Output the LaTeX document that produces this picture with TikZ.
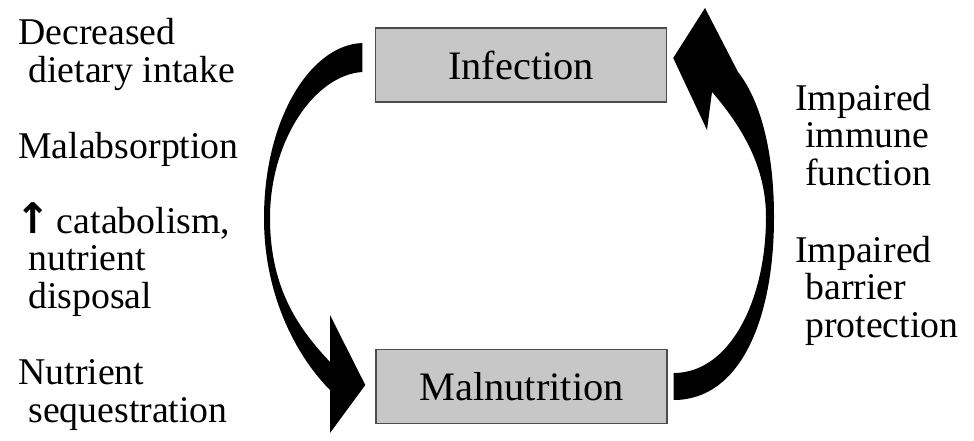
\documentclass[tikz,border=0pt]{standalone}
\usepackage{fontspec}
\setmainfont{Liberation Serif}
\newfontfamily\arrowfont{DejaVu Sans}
\usetikzlibrary{calc}

\tikzset{
  stagebox/.style={draw=black!70, line width=0.03cm, fill=black!22,
    minimum width=5.82cm, minimum height=1.48cm, inner sep=0pt,
    font=\fontsize{23}{27}\selectfont},
  cause/.style={anchor=base west, align=left, inner sep=0pt,
    font=\fontsize{21.5}{21.3}\selectfont},
  bigarrow/.style={fill=black, draw=none}
}

\begin{document}
\begin{tikzpicture}[x=0.02cm, y=-0.02cm]
    \useasboundingbox (0,0) rectangle (974,440);

    % Boxes
    \node[stagebox] (inf) at (521,65) {Infection};
    \node[stagebox] (mal) at (521.5,386.5) {Malnutrition};

    % Infection leads to malnutrition
    \fill[bigarrow] ($(inf.west)+(-12.5,-22)$) .. controls (310,45) and (264,120) .. (264,218)
        .. controls (264,300) and (300,360) .. (330,390) -- (330,433)
        -- ($(mal.west)+(-10,-1.5)$) -- (330,315) -- (330,362)
        .. controls (300,330) and (270,290) .. (270,218)
        .. controls (270,140) and (315,75) .. ($(inf.west)+(-12.5,7)$) -- cycle;

    % Malnutrition leads to infection
    \fill[bigarrow] ($(mal.east)+(6,13.5)$) .. controls (740,400) and (774,320) .. (774,217)
        .. controls (774,150) and (760,100) .. (738,72) -- (705,8)
        -- ($(inf.east)+(6,-7)$) -- (707,130) -- (712,92)
        .. controls (745,130) and (766,170) .. (766,217)
        .. controls (766,300) and (730,373) .. ($(mal.east)+(6,-13.5)$) -- cycle;

    % Causes on the left (placed at the baseline of their last line)
    \node[cause] (intake) at (18,82) {Decreased\\\hspace*{0.2cm}dietary intake};
    \node[cause] (absorb) at (18,158) {Malabsorption};
    \node[cause] (catab) at (15,308) {{\arrowfont\bfseries\fontsize{24}{24}\selectfont ↑}\,catabolism,\\\hspace*{0.26cm}nutrient\\\hspace*{0.26cm}disposal};
    \node[cause] (seq) at (18,422) {Nutrient\\\hspace*{0.2cm}sequestration};

    % Causes on the right
    \node[cause] (immune) at (795,185) {Impaired\\\hspace*{0.2cm}immune\\\hspace*{0.2cm}function};
    \node[cause] (barrier) at (795,337) {Impaired\\\hspace*{0.2cm}barrier\\\hspace*{0.2cm}protection};

\end{tikzpicture}
\end{document}
